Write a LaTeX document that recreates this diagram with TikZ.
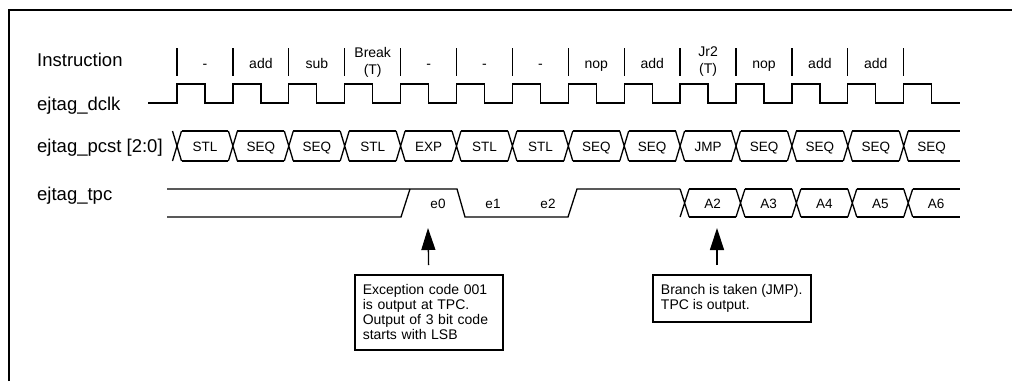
\documentclass[tikz,border=0pt]{standalone}
\usepackage{fontspec}
\setmainfont{Liberation Sans}
\usetikzlibrary{arrows.meta}

\begin{document}
\begin{tikzpicture}[
    x=1pt, y=-1pt,
    sig/.style={line width=1.3pt},
    sname/.style={anchor=base west, inner sep=0pt, font=\fontsize{18.5}{20}\selectfont},
    instr/.style={anchor=base, inner sep=0pt, align=center, font=\fontsize{14}{17}\selectfont},
    buslabel/.style={anchor=base, inner sep=0pt, font=\fontsize{13.5}{15}\selectfont},
    note/.style={draw, line width=1.5pt, anchor=north west, align=left, inner xsep=8pt, font=\fontsize{14}{15}\selectfont},
    pointer/.style={-{Triangle[length=22pt,width=14pt]}, line width=1.3pt}
]
\useasboundingbox (0,0) rectangle (1012,381);
\draw[line width=1.8pt] (9,381) -- (9,10) -- (1012,10);

% signal names
\node[sname] (instr) at (37,66.5) {Instruction};
\node[sname] (dclk) at (37,110) {ejtag\_dclk};
\node[sname] (pcst) at (37,152) {ejtag\_pcst [2:0]};
\node[sname] (tpc) at (37,200) {ejtag\_tpc};

\def\per{55.9}

% instruction slots
\foreach \k in {0,...,13}
  \draw[sig] ({177+\k*\per},48) -- ++(0,28);
\foreach \k/\t in {0/-,1/add,2/sub,4/-,5/-,6/-,7/nop,8/add,10/nop,11/add,12/add}
  \node[instr] (i\k) at ({177+\k*\per+28},68) {\t};
\node[instr, anchor=center] (i3) at ({177+3*\per+28},62) {Break\\(T)};
\node[instr, anchor=center] (i9) at ({177+9*\per+28},62) {Jr2\\(T)};

% clock
\draw[sig] (148,103) foreach \k in {0,...,13} { -- ({177+\k*\per},103) -- ++(0,-19) -- ++(28,0) -- ++(0,19) } -- (960,103);

% pcst bus
\foreach \k/\t in {0/STL,1/SEQ,2/SEQ,3/STL,4/EXP,5/STL,6/STL,7/SEQ,8/SEQ,9/JMP,10/SEQ,11/SEQ,12/SEQ,13/SEQ} {
  \pgfmathsetmacro\xa{177+\k*\per}
  \pgfmathsetmacro\xe{ifthenelse(\k<13,177+(\k+1)*\per-4.5,960)}
  \draw[sig] (\xa-4.5,131) -- (\xa+4.5,161) (\xa-4.5,161) -- (\xa+4.5,131);
  \draw[sig] (\xa+4.5,131) -- (\xe,131) (\xa+4.5,161) -- (\xe,161);
  \node[buslabel] (p\k) at (\xa+28,151.5) {\t};
}

% tpc
\draw[sig] (167,217) -- (401,217) -- (410,189);
\draw[sig] (167,189) -- (457,189) -- (465,217) -- (568,217) -- (577,189) -- ({177+9*\per},189);
\node[buslabel] (e0) at (438,208) {e0};
\node[buslabel] (e1) at (493,208) {e1};
\node[buslabel] (e2) at (548,208) {e2};
\foreach \k/\t in {9/A2,10/A3,11/A4,12/A5,13/A6} {
  \pgfmathsetmacro\xa{177+\k*\per}
  \pgfmathsetmacro\xe{ifthenelse(\k<13,177+(\k+1)*\per,960)}
  \draw[sig] (\xa,189) -- (\xa+9,217) (\xa,217) -- (\xa+9,189);
  \draw[sig] (\xa+9,189) -- (\xe,189) (\xa+9,217) -- (\xe,217);
  \node[buslabel] (t\k) at (\xa+32.5,208) {\t};
}

% notes
\node[note, text width=132pt, minimum height=75pt] (exc) at (354,274)
  {Exception code 001\\ is output at TPC.\\ Output of 3 bit code\\ starts with LSB};
\node[note, minimum width=158pt, minimum height=47pt] (jmp) at (652,274)
  {Branch is taken (JMP).\\ TPC is output.};

\coordinate (e0tip) at (428,228);
\coordinate (a2tip) at (717,228);
\draw[pointer, shorten <=9pt] (exc.north) -- (e0tip);
\draw[pointer, shorten <=9pt] (jmp.north -| a2tip) -- (a2tip);
\end{tikzpicture}
\end{document}
